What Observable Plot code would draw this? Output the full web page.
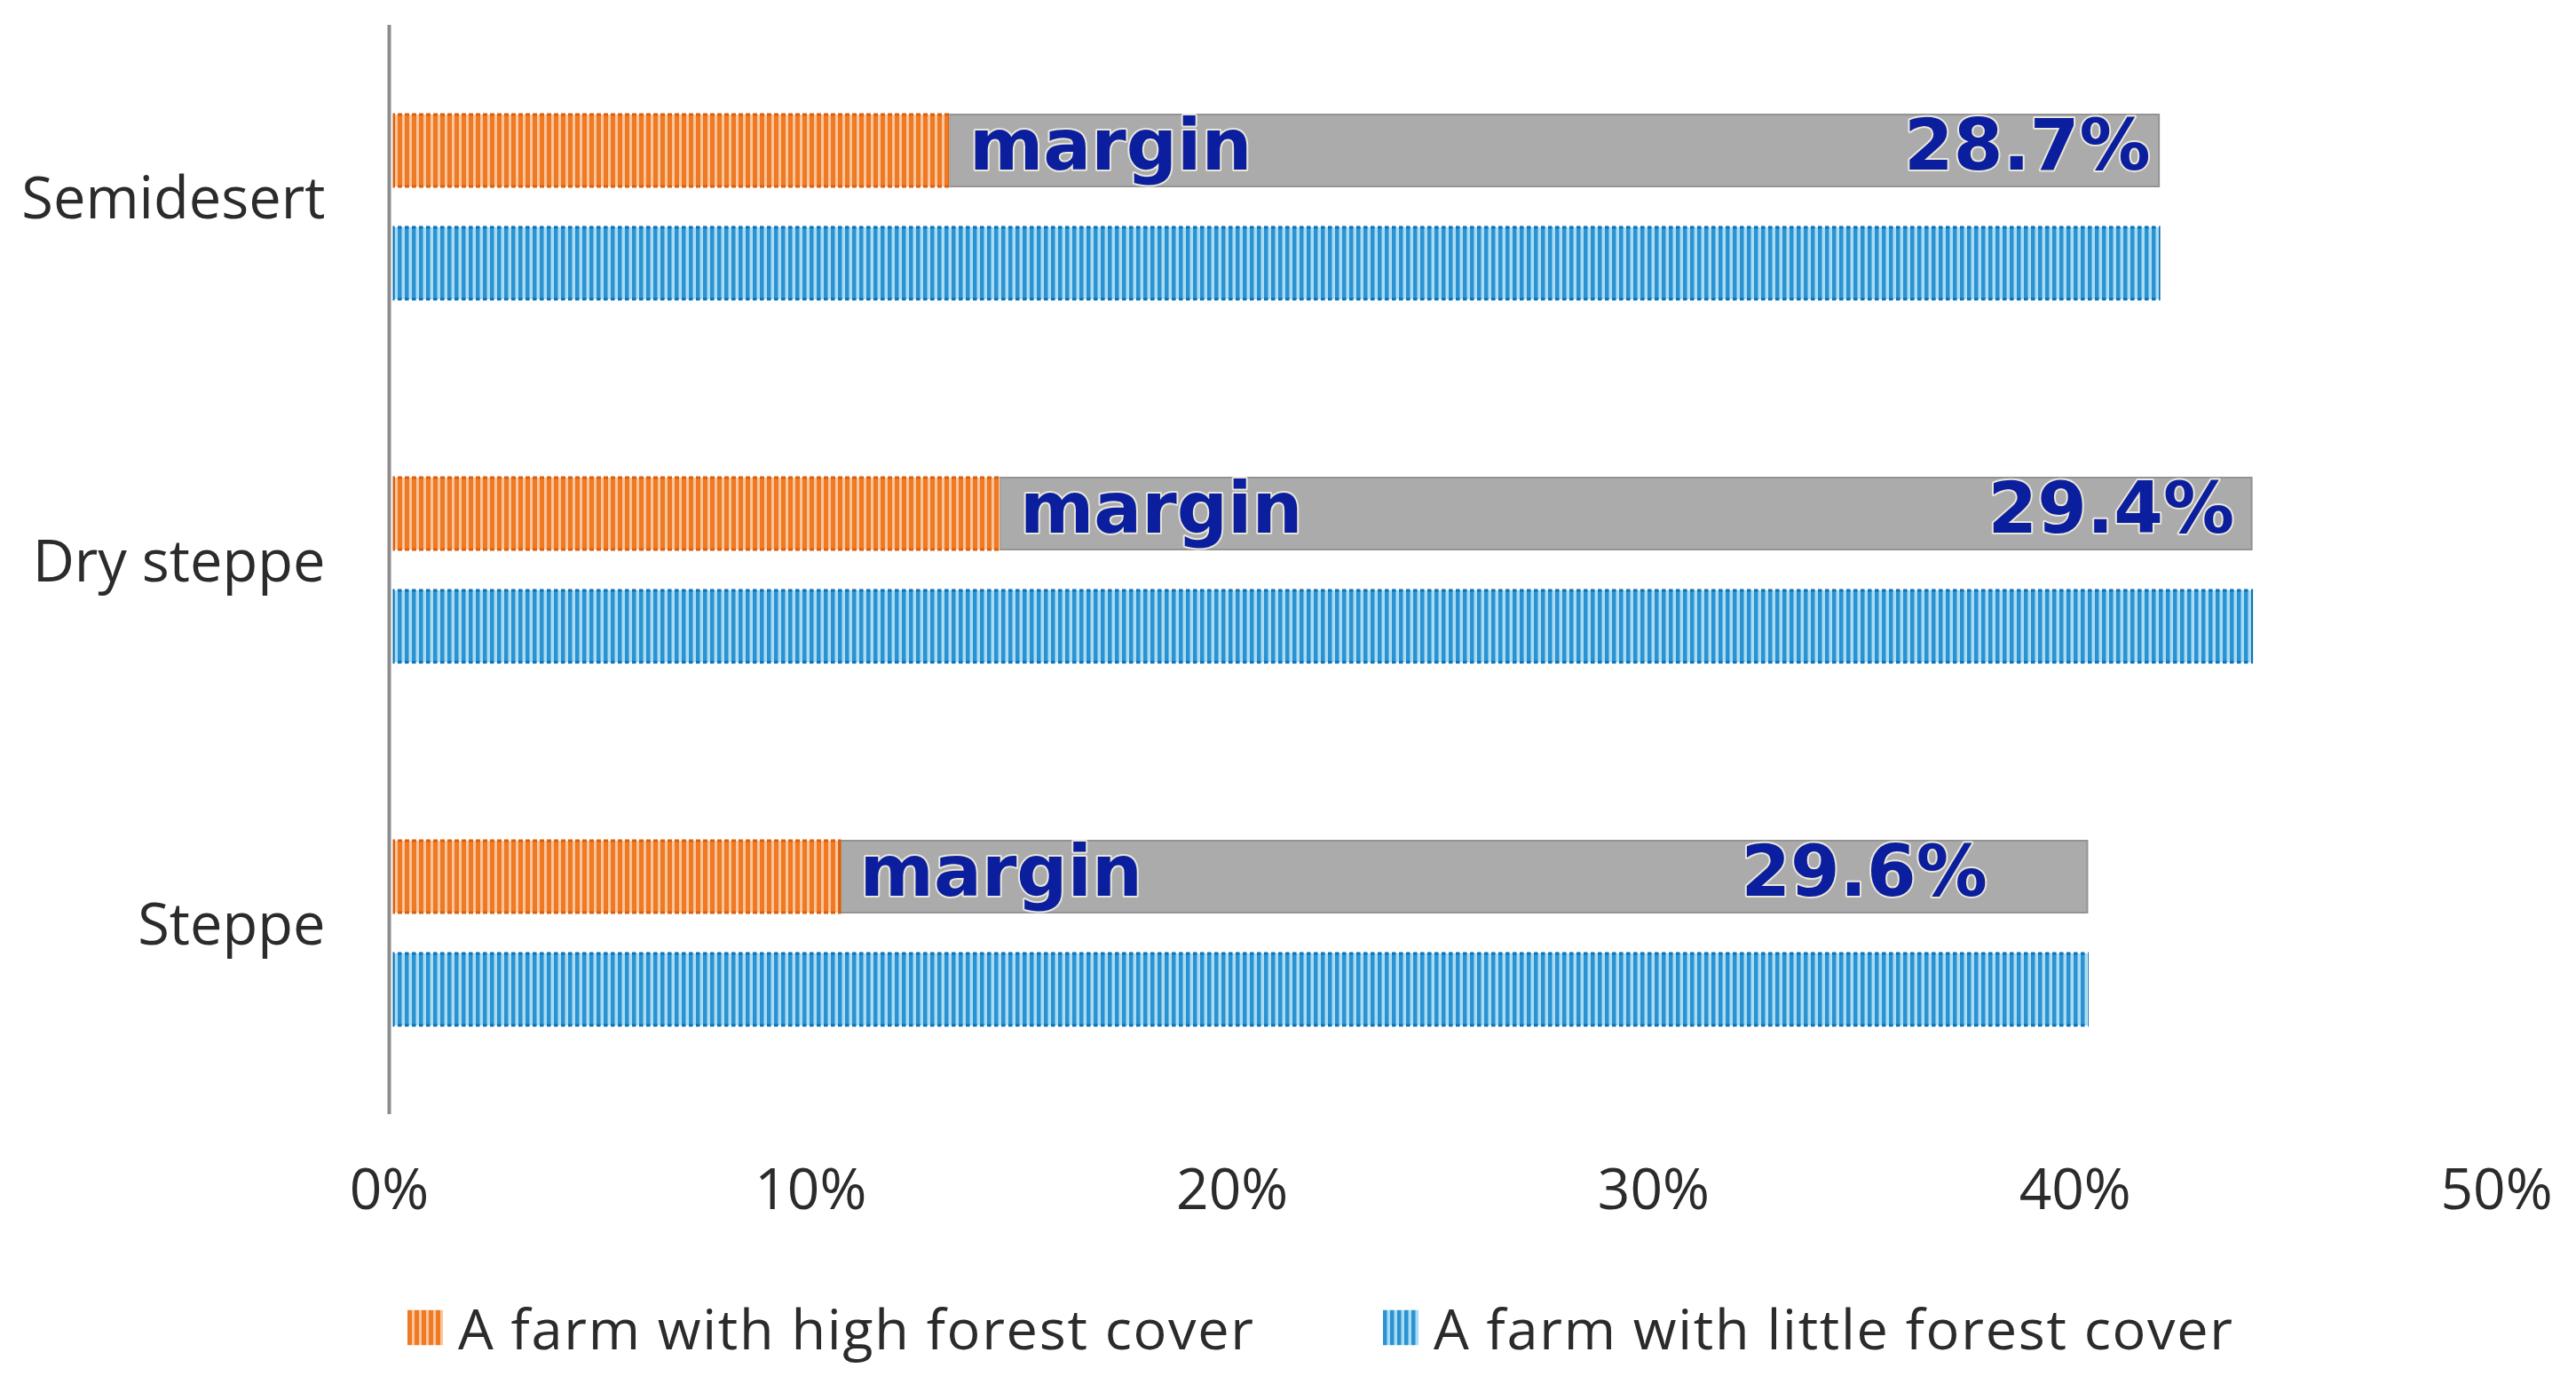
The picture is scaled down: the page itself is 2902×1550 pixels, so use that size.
<!DOCTYPE html>
<html>
<head>
<meta charset="utf-8">
<script src="https://cdn.jsdelivr.net/npm/d3@7"></script>
<script src="https://cdn.jsdelivr.net/npm/@observablehq/plot@0.6"></script>
<style>
  html, body { margin: 0; padding: 0; background: #fff; }
  body { width: 2902px; height: 1550px; overflow: hidden; font-family: "Open Sans", sans-serif; }
  #chart svg { display: block; }
  .legend { position: relative; height: 150px; width: 2902px; color: #2b2b2b; font-family: "Open Sans", sans-serif; font-size: 63px; letter-spacing: 1.7px; }
  .legend .item { position: absolute; top: 95px; transform: translateY(-50%); display: flex; align-items: center; white-space: nowrap; }
  .legend .sw { width: 40px; height: 40px; display: block; margin-right: 17px; }
</style>
</head>
<body>
<svg width="0" height="0" style="position:absolute">
  <defs>
    <pattern id="orangeStripes" patternUnits="userSpaceOnUse" width="8" height="8">
      <rect x="0" y="0" width="8" height="8" fill="#fbc49a"></rect>
      <rect x="0" y="0" width="5" height="8" fill="#ef7a24"></rect>
    </pattern>
    <pattern id="orangeEdge" patternUnits="userSpaceOnUse" width="8" height="8">
      <rect x="0" y="0" width="5" height="8" fill="#d9600f"></rect>
    </pattern>
    <pattern id="blueStripes" patternUnits="userSpaceOnUse" width="8" height="8">
      <rect x="0" y="0" width="8" height="8" fill="#a9dcf3"></rect>
      <rect x="0" y="0" width="4.5" height="8" fill="#2c93d2"></rect>
    </pattern>
    <pattern id="blueEdge" patternUnits="userSpaceOnUse" width="8" height="8">
      <rect x="0" y="0" width="4.5" height="8" fill="#0d72b6"></rect>
    </pattern>
  </defs>
</svg>
<div id="chart"></div>
<div class="legend" id="legend"></div>
<script>
// ---- data ----
const categories = ["Semidesert", "Dry steppe", "Steppe"];
const highForestCover = [13.3, 14.5, 10.7];     // % (orange bars)
const littleForestCover = [42.0, 44.2, 40.3];   // % (blue bars; grey margin ends here)
const marginLabels = ["28.7%", "29.4%", "29.6%"];
const seriesNames = ["A farm with high forest cover", "A farm with little forest cover"];
const xTicks = [0, 10, 20, 30, 40, 50];

// ---- styling ----
const pctLabelNudge = [-10, -20, -113];
const labelFont = {fontFamily: "DejaVu Sans", fontWeight: "bold", fontSize: 80, fill: "#0b1f9e",
  stroke: "#f3f0e2", strokeWidth: 4, strokeOpacity: 0.85, paintOrder: "stroke", dy: -5};

const rows = categories.map((c, i) => ({
  category: c, high: highForestCover[i], little: littleForestCover[i], label: marginLabels[i]
}));

const pctMarks = rows.map((r, i) => Plot.text([r], {
  fy: "category", y: () => "high", x: "little", text: "label",
  textAnchor: "end", dx: pctLabelNudge[i], ...labelFont
}));

const chart = Plot.plot({
  width: 2902,
  height: 1400,
  marginLeft: 438,
  marginRight: 90,
  marginTop: 28,
  marginBottom: 145,
  style: {fontFamily: "'Open Sans', sans-serif", fontSize: "64px", color: "#2b2b2b", background: "white"},
  x: {domain: [0, 50], ticks: xTicks, tickFormat: d => d + "%", tickSize: 0, tickPadding: 61, label: null, axis: "bottom"},
  y: {domain: ["high", "little"], axis: null, paddingInner: 0.365, paddingOuter: 0.787},
  fy: {domain: categories, axis: null, padding: 0},
  marks: [
    Plot.ruleX([0], {stroke: "#8c8c8c", strokeWidth: 4}),
    Plot.text(rows, {fy: "category", frameAnchor: "left", text: "category", textAnchor: "end",
      dx: -72, dy: -8, fontSize: 65, fill: "#2b2b2b"}),
    Plot.barX(rows, {fy: "category", y: () => "high", x1: "high", x2: "little",
      fill: "#ababab", stroke: "#939393", strokeWidth: 2}),
    Plot.barX(rows, {fy: "category", y: () => "high", x1: 0, x2: "high", insetLeft: 6,
      fill: "url(#orangeStripes)", stroke: "url(#orangeEdge)", strokeWidth: 3}),
    Plot.barX(rows, {fy: "category", y: () => "little", x1: 0, x2: "little", insetLeft: 6,
      fill: "url(#blueStripes)", stroke: "url(#blueEdge)", strokeWidth: 3}),
    Plot.text(rows, {fy: "category", y: () => "high", x: "high", text: () => "margin",
      textAnchor: "start", dx: 22, ...labelFont}),
    ...pctMarks
  ]
});
document.getElementById("chart").appendChild(chart);

// ---- legend ----
const legendFills = ["url(#orangeStripes)", "url(#blueStripes)"];
const legendLeft = [459, 1558];
const legend = document.getElementById("legend");
seriesNames.forEach((name, i) => {
  const item = document.createElement("div");
  item.className = "item";
  item.style.left = legendLeft[i] + "px";
  item.innerHTML = `<svg class="sw" viewBox="0 0 40 40"><rect width="40" height="40" fill="${legendFills[i]}"></rect></svg><span>${name}</span>`;
  legend.appendChild(item);
});
</script>
</body>
</html>
